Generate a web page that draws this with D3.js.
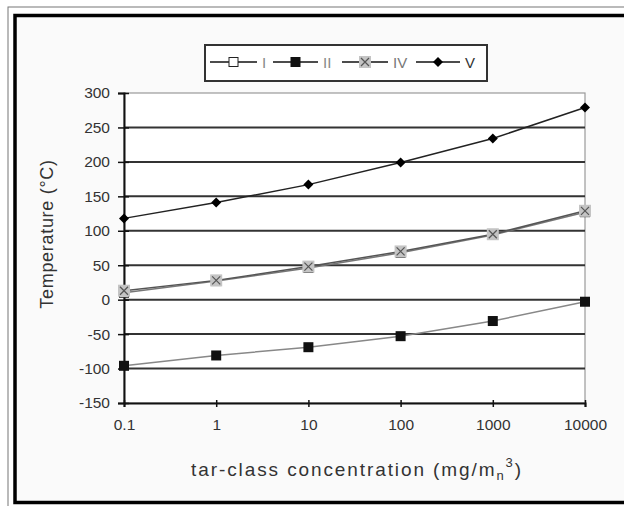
<!DOCTYPE html>
<html>
<head>
<meta charset="utf-8">
<script src="https://cdn.jsdelivr.net/npm/d3@7"></script>
<style>
body { margin: 0; background: #fff; }
text { font-family: Arial, "Liberation Sans", sans-serif; }
</style>
</head>
<body>
<svg id="chart" width="624" height="506"></svg>
<script>
var concs = [0.1, 1, 10, 100, 1000, 10000],
    xTicks = ['0.1', '1', '10', '100', '1000', '10000'],
    yTicks = [-150, -100, -50, 0, 50, 100, 150, 200, 250, 300],
    seriesNames = ['I', 'II', 'IV', 'V'],
    valsI = [10, 27, 46, 68, 94, 127],
    valsII = [-96, -81, -69, -53, -31, -3],
    valsIV = [13, 28, 48, 70, 95, 129],
    valsV = [118, 141, 167, 199, 234, 279];

var svg = d3.select('#chart'),
    margin = { left: 124, right: 39, top: 93, bottom: 103 },
    width = 624 - margin.left - margin.right,
    height = 506 - margin.top - margin.bottom;

// frame
svg.append('rect').attr('x', 8).attr('y', 7).attr('width', 640).attr('height', 520)
    .attr('fill', 'none').attr('stroke', '#777').attr('stroke-width', 1);
svg.append('rect').attr('x', 15).attr('y', 15.5).attr('width', 640).attr('height', 487)
    .attr('fill', '#fafafa').attr('stroke', '#000').attr('stroke-width', 3.5);

var x = d3.scaleLog().domain([0.1, 10000]).range([margin.left, margin.left + width]);
var y = d3.scaleLinear().domain([-150, 300]).range([margin.top + height, margin.top]);

// plot area
svg.append('rect').attr('x', margin.left).attr('y', margin.top)
    .attr('width', width).attr('height', height)
    .attr('fill', '#fff').attr('stroke', '#999').attr('stroke-width', 1.2);

// grid lines
svg.append('g').selectAll('line')
    .data(yTicks.filter(function (d) { return d > -150 && d < 300; }))
    .enter().append('line')
    .attr('x1', margin.left).attr('x2', margin.left + width)
    .attr('y1', function (d) { return y(d); }).attr('y2', function (d) { return y(d); })
    .attr('stroke', '#333').attr('stroke-width', 2);

// y axis
var yAxis = svg.append('g')
    .attr('transform', 'translate(' + margin.left + ',0)')
    .call(d3.axisLeft(y).tickValues(yTicks).tickFormat(function (d) { return String(d); })
        .tickSize(6).tickPadding(8));
yAxis.select('.domain').attr('stroke', '#111').attr('stroke-width', 2);
yAxis.selectAll('.tick line').attr('stroke', '#111').attr('stroke-width', 1.5).attr('x2', 5).attr('x1', -6);
yAxis.selectAll('.tick text').attr('font-size', 15.5).attr('fill', '#333')
    .style('font-family', 'Arial, "Liberation Sans", sans-serif');

// x axis
var xAxis = svg.append('g')
    .attr('transform', 'translate(0,' + (margin.top + height) + ')')
    .call(d3.axisBottom(x).tickValues(concs).tickFormat(function (d, i) { return xTicks[i]; })
        .tickSize(4).tickPadding(12));
xAxis.select('.domain').attr('stroke', '#111').attr('stroke-width', 2);
xAxis.selectAll('.tick line').attr('stroke', '#111').attr('stroke-width', 1.5).attr('y1', -3);
xAxis.selectAll('.tick text').attr('font-size', 15.5).attr('fill', '#333')
    .style('font-family', 'Arial, "Liberation Sans", sans-serif');

// axis titles
svg.append('text')
    .attr('transform', 'translate(53,234) rotate(-90)')
    .attr('text-anchor', 'middle').attr('font-size', 18).attr('fill', '#333')
    .attr('letter-spacing', 0.7)
    .text('Temperature (°C)');

var xt = svg.append('text').attr('x', 357).attr('y', 476)
    .attr('text-anchor', 'middle').attr('font-size', 19).attr('fill', '#333')
    .attr('letter-spacing', 1.9);
xt.append('tspan').text('tar-class concentration (mg/m');
xt.append('tspan').attr('font-size', 13).attr('dy', 4).text('n');
xt.append('tspan').attr('font-size', 13).attr('dy', -13).text('3');
xt.append('tspan').attr('dy', 9).text(')');

// series
var line = d3.line()
    .x(function (d, i) { return x(concs[i]); })
    .y(function (d) { return y(d); });

var series = [
    { name: 'I', vals: valsI, stroke: '#777' },
    { name: 'II', vals: valsII, stroke: '#888' },
    { name: 'IV', vals: valsIV, stroke: '#555' },
    { name: 'V', vals: valsV, stroke: '#222' }
];

function drawMarker(g, name, cx, cy) {
    if (name === 'I') {
        g.append('rect').attr('x', cx - 4.5).attr('y', cy - 4.5).attr('width', 9).attr('height', 9)
            .attr('fill', '#fff').attr('stroke', '#222').attr('stroke-width', 1);
    } else if (name === 'II') {
        g.append('rect').attr('x', cx - 5).attr('y', cy - 5).attr('width', 10).attr('height', 10)
            .attr('fill', '#111');
    } else if (name === 'IV') {
        g.append('rect').attr('x', cx - 6).attr('y', cy - 6).attr('width', 12).attr('height', 12)
            .attr('fill', '#c4c4c4');
        g.append('path').attr('d', 'M' + (cx - 4) + ',' + (cy - 4) + 'L' + (cx + 4) + ',' + (cy + 4) +
            'M' + (cx - 4) + ',' + (cy + 4) + 'L' + (cx + 4) + ',' + (cy - 4))
            .attr('stroke', '#555').attr('stroke-width', 1.2);
    } else {
        g.append('path').attr('d', 'M' + cx + ',' + (cy - 5) + 'L' + (cx + 5) + ',' + cy +
            'L' + cx + ',' + (cy + 5) + 'L' + (cx - 5) + ',' + cy + 'Z')
            .attr('fill', '#000');
    }
}

series.forEach(function (s) {
    var g = svg.append('g').attr('class', 'series');
    g.append('path').datum(s.vals).attr('d', line)
        .attr('fill', 'none').attr('stroke', s.stroke).attr('stroke-width', 1.5);
    s.vals.forEach(function (v, i) { drawMarker(g, s.name, x(concs[i]), y(v)); });
});

// legend
var legend = svg.append('g');
legend.append('rect').attr('x', 205).attr('y', 45).attr('width', 282).attr('height', 36)
    .attr('fill', '#fff').attr('stroke', '#333').attr('stroke-width', 2);
var legendX = [210, 273, 342, 416],
    legendLen = [47, 45, 46, 44],
    legendCol = ['#888', '#888', '#777', '#333'],
    ly = 62;
series.forEach(function (s, i) {
    var g = legend.append('g');
    g.append('line').attr('x1', legendX[i]).attr('x2', legendX[i] + legendLen[i])
        .attr('y1', ly).attr('y2', ly).attr('stroke', '#111').attr('stroke-width', 1.5);
    drawMarker(g, s.name, legendX[i] + legendLen[i] / 2, ly);
    g.append('text').attr('x', legendX[i] + legendLen[i] + 5).attr('y', ly + 5.5)
        .attr('font-size', 15).attr('fill', legendCol[i]).text(s.name);
});
</script>
</body>
</html>
